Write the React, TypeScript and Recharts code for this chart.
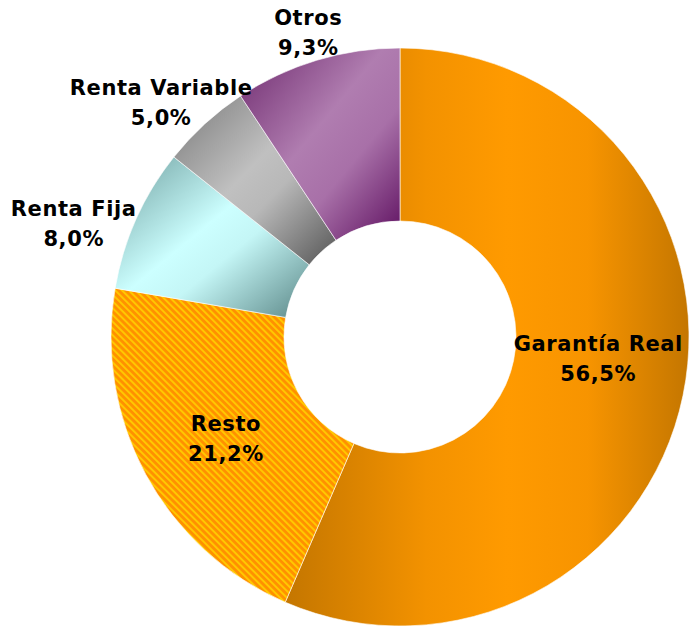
import { PieChart, Pie, Cell } from 'recharts'

const CATEGORIES = ['Garantía Real', 'Resto', 'Renta Fija', 'Renta Variable', 'Otros']
const SHARES = [56.5, 21.2, 8.0, 5.0, 9.3]
const FILLS = ['url(#gGarantia)', 'url(#pResto)', 'url(#gFija)', 'url(#gVariable)', 'url(#gOtros)']

const data = CATEGORIES.map((name, i) => ({ name, value: SHARES[i] }))

const RADIAN = Math.PI / 180
const FONT = {
  fontFamily: '"DejaVu Sans", Verdana, sans-serif',
  fontWeight: 700,
  fontSize: 21,
  letterSpacing: 0.6,
}

const fmt = (v: number) => `${v.toFixed(1).replace('.', ',')}%`

const renderLabel = (props: any) => {
  const { cx, cy, midAngle, innerRadius, outerRadius, name, value } = props
  const cos = Math.cos(-midAngle * RADIAN)
  const sin = Math.sin(-midAngle * RADIAN)
  let x: number
  let y: number
  if (value >= 10) {
    // inside, at mid ring (lifted a bit like Excel does on the big slice)
    const r = (innerRadius + outerRadius) / 2
    x = cx + r * cos + (Math.abs(cos) > 0.9 ? 0 : 4)
    y = cy + r * sin + (Math.abs(cos) > 0.9 ? -20 : 5)
  } else {
    // outside, box pushed away from the ring
    const halfW = name.length * 6.5
    const k = Math.abs(cos) > 0.85 ? 0.9 : 0.6
    x = cx + (outerRadius + 10) * cos + cos * halfW * k
    y = cy + (outerRadius + 10) * sin + sin * 20 + (Math.abs(cos) > 0.85 ? 16 : 0)
  }
  return (
    <text x={x} y={y} textAnchor="middle" fill="#000" style={FONT}>
      <tspan x={x} dy={-7}>{name}</tspan>
      <tspan x={x} dy={30}>{fmt(value)}</tspan>
    </text>
  )
}

export default function App() {
  return (
    <div style={{ position: 'fixed', left: 0, top: 0, width: 691, height: 627, background: '#fff' }}>
      <PieChart width={691} height={627} margin={{ top: 0, right: 0, bottom: 0, left: 0 }}>
        <defs>
          <linearGradient id="gGarantia" x1="0" y1="0" x2="1" y2="0">
            <stop offset="0%" stopColor="#c47600" />
            <stop offset="35%" stopColor="#f39200" />
            <stop offset="55%" stopColor="#ff9a00" />
            <stop offset="75%" stopColor="#f79400" />
            <stop offset="100%" stopColor="#c47600" />
          </linearGradient>
          <pattern id="pResto" width="4.8" height="4.8" patternUnits="userSpaceOnUse" patternTransform="rotate(-45)">
            <rect width="4.8" height="4.8" fill="#ff9000" />
            <rect width="2" height="4.8" fill="#ffc800" />
          </pattern>
          <linearGradient id="gFija" x1="0" y1="0" x2="1" y2="1">
            <stop offset="0%" stopColor="#6f9f9f" />
            <stop offset="45%" stopColor="#ccffff" />
            <stop offset="60%" stopColor="#c4f6f6" />
            <stop offset="100%" stopColor="#5a8686" />
          </linearGradient>
          <linearGradient id="gVariable" x1="0" y1="0" x2="1" y2="1">
            <stop offset="0%" stopColor="#7a7a7a" />
            <stop offset="45%" stopColor="#c0c0c0" />
            <stop offset="60%" stopColor="#b8b8b8" />
            <stop offset="100%" stopColor="#555555" />
          </linearGradient>
          <linearGradient id="gOtros" x1="0" y1="0" x2="1" y2="1">
            <stop offset="0%" stopColor="#6e2a6e" />
            <stop offset="45%" stopColor="#b07db0" />
            <stop offset="65%" stopColor="#a870a8" />
            <stop offset="100%" stopColor="#5e1060" />
          </linearGradient>
        </defs>
        <Pie
          data={data}
          dataKey="value"
          nameKey="name"
          cx={400}
          cy={337}
          innerRadius={116}
          outerRadius={289}
          startAngle={90}
          endAngle={-270}
          stroke="#ffffff"
          strokeWidth={0.6}
          label={renderLabel}
          labelLine={false}
          isAnimationActive={false}
        >
          {data.map((d, i) => (
            <Cell key={d.name} fill={FILLS[i]} />
          ))}
        </Pie>
      </PieChart>
    </div>
  )
}
